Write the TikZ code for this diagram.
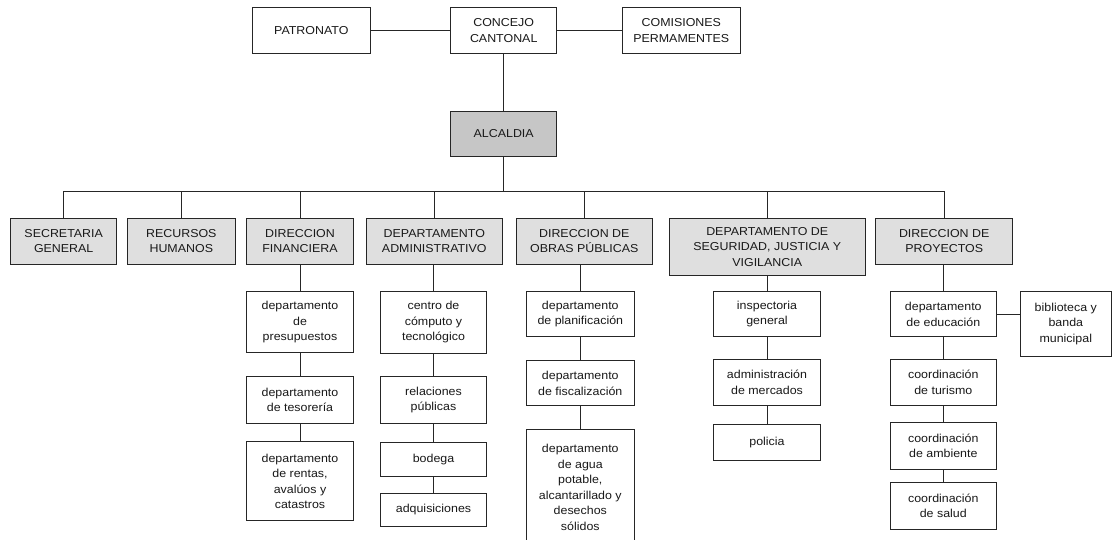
\documentclass[tikz,border=0pt]{standalone}
\usepackage{fontspec}
\setmainfont{Liberation Sans}[FakeStretch=1.08]
\begin{document}
\begin{tikzpicture}[x=1pt,y=-1pt,
  box/.style={draw=black!85, line width=0.8pt, fill=white, align=center, inner sep=0pt,
    font=\fontsize{11.5}{15.5}\selectfont, text=black!90},
  dept/.style={box, fill=gray!25},
  head/.style={box, fill=gray!45},
  link/.style={draw=black!85, line width=0.8pt}]
\useasboundingbox (0,0) rectangle (1115,539);
% top
\node[box, minimum width=117.3pt, minimum height=46pt] (patronato) at (311.3,30.3) {PATRONATO};
\node[box, minimum width=106pt, minimum height=46pt] (concejo) at (503.7,30.3) {CONCEJO\\CANTONAL};
\node[box, minimum width=117.3pt, minimum height=46pt] (comisiones) at (681.3,30.3) {COMISIONES\\PERMAMENTES};
\node[head, minimum width=106pt, minimum height=45pt] (alcaldia) at (503.7,133.5) {ALCALDIA};
\coordinate (bus) at (503.7,191.7);
% departments
\node[dept, minimum width=106pt, minimum height=45.7pt] (sec) at (63.7,241.2) {SECRETARIA\\GENERAL};
\node[dept, minimum width=107.3pt, minimum height=45.7pt] (rrhh) at (181.3,241.2) {RECURSOS\\HUMANOS};
\node[dept, minimum width=106.7pt, minimum height=45.7pt] (fin) at (300,241.2) {DIRECCION\\FINANCIERA};
\node[dept, minimum width=136.7pt, minimum height=45.7pt] (adm) at (434.3,241.2) {DEPARTAMENTO\\ADMINISTRATIVO};
\node[dept, minimum width=136.7pt, minimum height=45.7pt] (obras) at (584.3,241.2) {DIRECCION DE\\OBRAS PÚBLICAS};
\node[dept, minimum width=195.7pt, minimum height=57.4pt] (seg) at (767.2,247) {DEPARTAMENTO DE\\SEGURIDAD, JUSTICIA Y\\VIGILANCIA};
\node[dept, minimum width=137pt, minimum height=45.7pt] (proy) at (944.2,241.2) {DIRECCION DE\\PROYECTOS};
% financiera column
\node[box, minimum width=106.7pt, minimum height=61pt] (presu) at (300,322.2) {departamento\\de\\presupuestos};
\node[box, minimum width=106.7pt, minimum height=46.6pt] (teso) at (300,400) {departamento\\de tesorería};
\node[box, minimum width=106.7pt, minimum height=79pt] (rentas) at (300,481.2) {departamento\\de rentas,\\avalúos y\\catastros};
% administrativo column
\node[box, minimum width=105.5pt, minimum height=61.6pt] (comp) at (433.5,322.5) {centro de\\cómputo y\\tecnológico};
\node[box, minimum width=105.5pt, minimum height=46.6pt] (rel) at (433.5,400) {relaciones\\públicas};
\node[box, minimum width=105.5pt, minimum height=33.3pt] (bod) at (433.5,459.3) {bodega};
\node[box, minimum width=105.5pt, minimum height=33.4pt] (adq) at (433.5,510) {adquisiciones};
% obras column
\node[box, minimum width=107.3pt, minimum height=45pt] (plan) at (580.3,314.2) {departamento\\de planificación};
\node[box, minimum width=107.3pt, minimum height=45pt] (fisc) at (580.3,383.2) {departamento\\de fiscalización};
\node[box, minimum width=107.3pt, minimum height=115.7pt] (agua) at (580.3,487.2) {departamento\\de agua\\potable,\\alcantarillado y\\desechos\\sólidos};
% seguridad column
\node[box, minimum width=107.4pt, minimum height=45pt] (insp) at (767,314.2) {inspectoria\\general};
\node[box, minimum width=107.4pt, minimum height=45.7pt] (merc) at (767,382.2) {administración\\de mercados};
\node[box, minimum width=107.4pt, minimum height=35.7pt] (pol) at (767,442.2) {policia};
% proyectos column
\node[box, minimum width=106.7pt, minimum height=45pt] (edu) at (943.3,314.2) {departamento\\de educación};
\node[box, minimum width=91.7pt, minimum height=64.3pt] (bib) at (1065.8,323.8) {biblioteca y\\banda\\municipal};
\node[box, minimum width=106.7pt, minimum height=45.7pt] (tur) at (943.3,382.2) {coordinación\\de turismo};
\node[box, minimum width=106.7pt, minimum height=46.6pt] (amb) at (943.3,446) {coordinación\\de ambiente};
\node[box, minimum width=106.7pt, minimum height=46.6pt] (sal) at (943.3,506) {coordinación\\de salud};
% connectors
\draw[link] (patronato.east) -- (concejo.west);
\draw[link] (concejo.east) -- (comisiones.west);
\draw[link] (concejo.south) -- (alcaldia.north);
\draw[link] (alcaldia.south) -- (bus);
\foreach \d in {sec,rrhh,fin,adm,obras,seg,proy}
  \draw[link] (\d.north) |- (bus);
\foreach \a/\b in {fin/presu,presu/teso,teso/rentas,adm/comp,comp/rel,rel/bod,bod/adq,
  obras/plan,plan/fisc,fisc/agua,seg/insp,insp/merc,merc/pol,proy/edu,edu/tur,tur/amb,amb/sal}
  \draw[link] (\b.north) -- (\b.north |- \a.south);
\draw[link] (edu.east) -- (bib.west |- edu.east);
\end{tikzpicture}
\end{document}
